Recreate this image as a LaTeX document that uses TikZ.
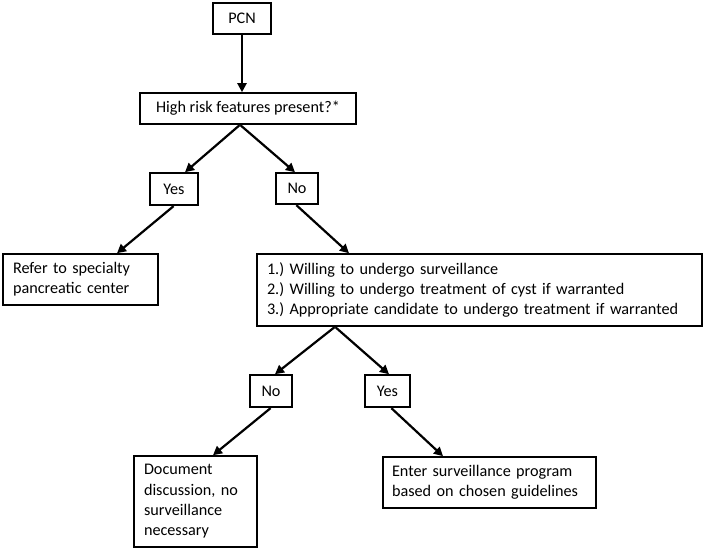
\documentclass[tikz,border=0pt]{standalone}
\usepackage{fontspec}
\setmainfont{Carlito}
\usetikzlibrary{arrows.meta}
\frenchspacing
\tikzset{
  box/.style={draw, line width=1.6pt, inner xsep=10pt, inner ysep=0pt, font=\fontsize{16.2}{20.3}\selectfont},
  arr/.style={line width=2.2pt, -{Triangle[length=9pt,width=9pt]}, shorten <=0.5pt}
}
\begin{document}
\begin{tikzpicture}[x=1pt,y=-1pt]
\useasboundingbox (0,0) rectangle (704,552);
% boxes
\node[box, minimum width=58pt, minimum height=31pt] (pcn) at (242,18.5) {PCN};
\node[box, minimum width=216pt, minimum height=31pt] (hr) at (248,108.5) {High risk features present?*};
\node[box, minimum width=48pt, minimum height=32pt] (yes1) at (174,189) {Yes};
\node[box, minimum width=42pt, minimum height=31pt] (no1) at (297,188.5) {No};
\node[box, text width=135pt, minimum height=51pt, align=left] (refer) at (80.5,279.5) {Refer to specialty\\pancreatic center};
\node[box, text width=425pt, minimum height=72pt, align=left] (big) at (479.5,290) {1.) Willing to undergo surveillance\\2.) Willing to undergo treatment of cyst if warranted\\3.) Appropriate candidate to undergo treatment if warranted};
\node[box, minimum width=42pt, minimum height=32pt] (no2) at (271,391) {No};
\node[box, minimum width=45pt, minimum height=32pt] (yes2) at (387.5,391) {Yes};
\node[box, text width=103pt, minimum height=91pt, align=left] (doc) at (195.5,501.5) {Document\\discussion, no\\surveillance\\necessary};
\node[box, text width=195pt, minimum height=51pt, inner xsep=9pt, align=left] (enter) at (489.5,482.5) {Enter surveillance program\\based on chosen guidelines};
% split points
\coordinate (hrs) at ([xshift=-8pt]hr.south);
\coordinate (bigs) at ([xshift=-144.5pt]big.south);
% connectors
\draw[arr] (pcn.south) -- (hr.north -| pcn.south);
\draw[arr] (hrs) -- ([xshift=11pt]yes1.north);
\draw[arr] (hrs) -- ([xshift=-2pt]no1.north);
\draw[arr] (yes1.south) -- ([xshift=36.5pt]refer.north);
\draw[arr] ([xshift=-1pt]no1.south) -- ([xshift=-130.5pt]big.north);
\draw[arr] (bigs) -- ([xshift=4pt]no2.north);
\draw[arr] (bigs) -- ([xshift=1.5pt]yes2.north);
\draw[arr] (no2.south) -- ([xshift=17.5pt]doc.north);
\draw[arr] ([xshift=3.5pt]yes2.south) -- ([xshift=-46.5pt]enter.north);
\end{tikzpicture}
\end{document}
